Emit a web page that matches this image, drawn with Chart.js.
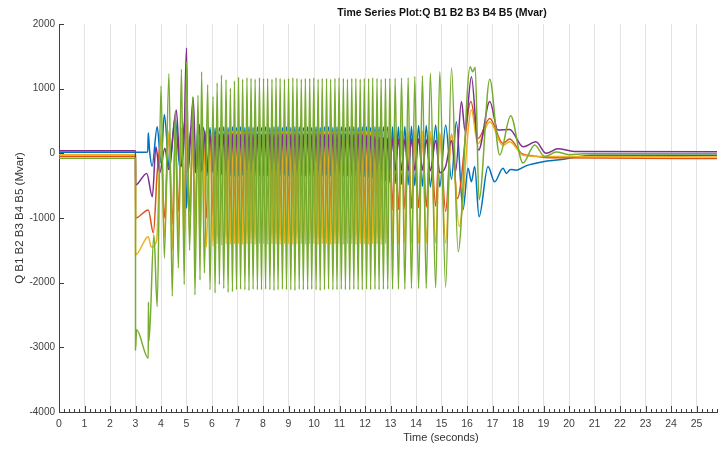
<!DOCTYPE html>
<html>
<head>
<meta charset="utf-8">
<script src="https://cdn.jsdelivr.net/npm/chart.js@4.4.1/dist/chart.umd.min.js"></script>
<style>
  html, body { margin: 0; padding: 0; background: #fff; }
  #wrap { width: 727px; height: 450px; }
</style>
</head>
<body>
<div id="wrap"><canvas id="qChart" width="727" height="450"></canvas></div>
<script>
// Q B1..B5 (Mvar)
// steady oscillation: shared extrema times (green peak, green trough, ...)
const oscT = [
  6.04, 6.12, 6.20, 6.29, 6.37, 6.46, 6.55, 6.63, 6.72, 6.80, 6.88, 6.96,
  7.04, 7.12, 7.20, 7.29, 7.37, 7.45, 7.53, 7.61, 7.69, 7.78, 7.86, 7.94,
  8.02, 8.10, 8.18, 8.27, 8.35, 8.43, 8.51, 8.59, 8.67, 8.76, 8.84, 8.92,
  9.00, 9.09, 9.17, 9.25, 9.33, 9.42, 9.50, 9.58, 9.66, 9.75, 9.83, 9.91,
  9.99, 10.08, 10.16, 10.24, 10.32, 10.41, 10.49, 10.57, 10.65, 10.74, 10.82, 10.90,
  10.98, 11.07, 11.15, 11.23, 11.31, 11.40, 11.48, 11.56, 11.64, 11.73, 11.81, 11.89,
  11.97, 12.06, 12.14, 12.22, 12.30, 12.39, 12.47, 12.55, 12.63, 12.72, 12.80, 12.89,
  12.97, 13.08, 13.18, 13.31, 13.43, 13.56, 13.69, 13.82, 13.95, 14.10, 14.25, 14.40,
  14.56, 14.77, 14.93, 15.16, 15.39
];

// blue (B1)
const blueStartT = [0, 3.0, 3.48, 3.50, 3.55, 3.65, 3.85, 4.00, 4.13, 4.33, 4.55, 4.75, 4.94, 5.00, 5.10, 5.22, 5.35, 5.45, 5.55, 5.67, 5.80, 5.92];
const blueStartQ = [15, 15, 20, 320, 50, -200, 410, -150, 600, -250, 545, -250, 520, -850, 100, 430, -300, 440, -300, 400, -350, 400];
const blueOscQ = [
  -300, 390, -350, 400, -330, 410, -350, 400, -340, 410, -350, 400,
  -350, 410, -340, 400, -350, 410, -350, 400, -340, 410, -350, 400,
  -350, 410, -350, 400, -340, 410, -350, 410, -350, 400, -340, 410,
  -350, 400, -350, 410, -340, 410, -350, 400, -350, 410, -340, 400,
  -350, 410, -350, 400, -350, 410, -340, 410, -350, 400, -350, 410,
  -350, 410, -350, 400, -350, 410, -350, 410, -350, 400, -350, 410,
  -360, 410, -370, 400, -380, 410, -400, 410, -420, 410, -430, 410,
  -450, 410, -470, 410, -480, 415, -490, 420, -500, 430, -510, 430,
  -520, 440, -520, 440, -400
];
const blueEndT = [15.58, 15.84, 16.04, 16.17, 16.30, 16.47, 16.82, 17.08, 17.41, 17.54, 17.70, 17.93, 18.33, 18.98, 19.63, 20.40, 20.90, 25.80];
const blueEndQ = [490, -875, -230, -440, -205, -980, -205, -440, -230, -310, -250, -260, -190, -130, -100, -50, -30, -30];

// orange (B2)
const orangeStartT = [0, 3.0, 3.001, 3.50, 3.70, 3.85, 4.00, 4.13, 4.31, 4.44, 4.56, 4.68, 4.80, 4.91, 5.00, 5.12, 5.25, 5.33, 5.45, 5.53, 5.65, 5.78, 5.92];
const orangeStartQ = [-45, -45, -1000, -875, -1230, -300, 200, -1000, 300, -1100, 250, -900, 350, -1000, 400, -900, 300, -1050, 250, -950, 300, -1000, 250];
const orangeOscQ = [
  -980, 200, -950, 250, -960, 260, -940, 250, -950, 250, -950, 260,
  -950, 250, -940, 260, -950, 250, -960, 250, -950, 260, -950, 250,
  -950, 250, -940, 260, -950, 250, -960, 250, -950, 260, -950, 250,
  -950, 250, -940, 260, -950, 250, -960, 250, -950, 260, -950, 250,
  -950, 250, -940, 260, -950, 250, -960, 250, -950, 260, -950, 250,
  -950, 250, -940, 260, -950, 250, -960, 250, -950, 260, -950, 250,
  -940, 250, -930, 260, -920, 250, -910, 250, -900, 260, -890, 250,
  250, -880, 260, -870, 250, -860, 260, -850, 250, -840, 260, -830,
  280, -820, 290, -900, 300
];
const orangeEndT = [15.62, 16.15, 16.43, 16.89, 17.40, 17.67, 18.13, 18.60, 19.30, 25.80];
const orangeEndQ = [-700, 800, 230, 540, 155, 220, 0, -40, -70, -80];

// yellow (B3)
const yellowStartT = [0, 3.0, 3.001, 3.50, 3.62, 3.83, 4.00, 4.13, 4.31, 4.44, 4.56, 4.68, 4.80, 4.91, 5.00, 5.12, 5.25, 5.33, 5.45, 5.53, 5.65, 5.78, 5.92];
const yellowStartQ = [-20, -20, -1570, -1290, -1450, -1340, 300, -1300, 350, -1500, 300, -1300, 400, -1450, 450, -1250, 350, -1500, 300, -1400, 350, -1450, 300];
const yellowOscQ = [
  -1430, 300, -1400, 350, -1420, 350, -1400, 340, -1410, 350, -1400, 350,
  -1400, 350, -1410, 340, -1400, 350, -1400, 350, -1410, 340, -1400, 350,
  -1400, 350, -1410, 340, -1400, 350, -1400, 350, -1410, 340, -1400, 350,
  -1400, 350, -1410, 340, -1400, 350, -1400, 350, -1410, 340, -1400, 350,
  -1400, 350, -1410, 340, -1400, 350, -1400, 350, -1410, 340, -1400, 350,
  -1400, 350, -1410, 340, -1400, 350, -1400, 350, -1410, 340, -1400, 350,
  -1400, 350, -1410, 340, -1400, 350, -1400, 350, -1410, 340, -1400, 350,
  350, -1400, 340, -1400, 350, -1390, 340, -1390, 350, -1390, 350, -1390,
  340, -1390, 330, -1390, 300
];
const yellowEndT = [15.69, 16.17, 16.42, 16.89, 17.40, 17.67, 18.20, 19.00, 25.80];
const yellowEndQ = [-1130, 670, 150, 490, 120, 180, -30, -50, -55];

// purple (B4)
const purpleStartT = [0, 3.0, 3.001, 3.44, 3.66, 3.80, 3.95, 4.15, 4.30, 4.60, 4.75, 4.90, 5.00, 5.06, 5.26, 5.38, 5.50, 5.60, 5.72, 5.82, 5.92];
const purpleStartQ = [40, 40, -490, -310, -670, 100, -300, 80, -250, 670, -200, 200, 1630, -300, 860, -300, 450, -280, 350, -280, 300];
const purpleOscQ = [
  -280, 300, -260, 290, -270, 300, -260, 290, -270, 300, -260, 290,
  -260, 290, -270, 300, -260, 290, -270, 290, -260, 300, -270, 290,
  -260, 290, -270, 300, -260, 290, -270, 290, -260, 300, -270, 290,
  -260, 290, -270, 300, -260, 290, -270, 290, -260, 300, -270, 290,
  -260, 290, -270, 300, -260, 290, -270, 290, -260, 300, -270, 290,
  -260, 290, -270, 300, -260, 290, -270, 290, -260, 300, -270, 290,
  -260, 280, -270, 270, -260, 260, -270, 250, -260, 240, -270, 230,
  -260, 230, -270, 220, -260, 220, -270, 220, -260, 220, -260, 210,
  -270, 200, -300, -205, 200
];
const purpleEndT = [15.55, 15.78, 15.92, 16.17, 16.45, 16.89, 17.21, 17.67, 18.20, 18.70, 19.10, 19.56, 20.20, 25.80];
const purpleEndQ = [-280, 800, 350, 1185, 50, 800, 360, 370, 100, 180, 0, 70, 30, 25];

// green (B5)
const greenStartT = [0, 3.0, 3.001, 3.04, 3.50, 3.505, 3.53, 3.72, 3.85, 4.00, 4.13, 4.31, 4.44, 4.56, 4.68, 4.80, 4.91, 5.00, 5.12, 5.25, 5.33, 5.45, 5.53, 5.59, 5.70, 5.83, 5.92];
const greenStartQ = [-75, -75, -3040, -2730, -3170, -2300, -2900, -1260, -2370, 1040, -1620, 1230, -2210, 650, -1775, 1300, -2030, 1420, -1500, 880, -2190, 900, -1960, 1260, -1850, 1060, -2110];
const greenOscQ = [
  880, -2160, 1090, -2030, 1210, -2090, 1140, -2150, 1010, -2140, 1120, -2110,
  1180, -2100, 1150, -2110, 1170, -2120, 1160, -2100, 1150, -2110, 1170, -2110,
  1160, -2100, 1160, -2110, 1150, -2120, 1170, -2110, 1160, -2100, 1150, -2110,
  1160, -2110, 1170, -2120, 1160, -2100, 1150, -2110, 1160, -2110, 1160, -2100,
  1170, -2110, 1150, -2120, 1160, -2110, 1160, -2100, 1150, -2110, 1160, -2110,
  1170, -2100, 1160, -2110, 1150, -2110, 1160, -2100, 1160, -2110, 1150, -2110,
  1160, -2100, 1160, -2110, 1170, -2100, 1160, -2110, 1150, -2100, 1160, -2100,
  1160, -2100, 1160, -2100, 1165, -2100, 1170, -2090, 1190, -2090, 1200, -2090,
  1240, -2080, 1260, -2070, 1320
];
const greenEndT = [15.65, 16.12, 16.22, 16.32, 16.47, 16.89, 17.28, 17.71, 18.19, 18.65, 19.04, 19.50, 20.00, 20.60, 25.80];
const greenEndQ = [-1520, 1340, 1260, 1330, -720, 1145, -25, 580, -150, 130, -50, 20, -20, -5, -5];

const xTicks = [0, 1, 2, 3, 4, 5, 6, 7, 8, 9, 10, 11, 12, 13, 14, 15, 16, 17, 18, 19, 20, 21, 22, 23, 24, 25];
const yTicks = [2000, 1000, 0, -1000, -2000, -3000, -4000];
const tMax = 25.8;

const toPoints = (ts, qs) => ts.map((t, i) => ({ x: t, y: qs[i] }));
const series = (startT, startQ, oscQ, endT, endQ) =>
  toPoints(startT, startQ).concat(toPoints(oscT, oscQ), toPoints(endT, endQ));

const FONT = "'Liberation Sans', Arial, sans-serif";

// titles + the small inward ticks
const decorPlugin = {
  id: 'decor',
  afterDraw(chart) {
    const ctx = chart.ctx;
    const xs = chart.scales.x, ys = chart.scales.y;
    const bottom = chart.chartArea.bottom, left = chart.chartArea.left;
    ctx.save();
    ctx.strokeStyle = '#404040';
    ctx.lineWidth = 1;
    ctx.beginPath();
    for (let k = 0; k <= Math.floor(tMax * 5); k++) {
      const px = Math.round(xs.getPixelForValue(k / 5)) + 0.5;
      const len = k % 5 === 0 ? 6 : 3;
      ctx.moveTo(px, bottom);
      ctx.lineTo(px, bottom - len);
    }
    yTicks.forEach(v => {
      const py = Math.round(ys.getPixelForValue(v)) + 0.5;
      ctx.moveTo(left, py);
      ctx.lineTo(left + 5, py);
    });
    ctx.stroke();

    ctx.fillStyle = '#111';
    ctx.font = 'bold 10.5px ' + FONT;
    ctx.textAlign = 'center';
    ctx.textBaseline = 'middle';
    ctx.fillText('Time Series Plot:Q B1 B2 B3 B4 B5 (Mvar)', 442, 13);

    ctx.fillStyle = '#333';
    ctx.font = '11px ' + FONT;
    ctx.fillText('Time (seconds)', 441, 438);

    ctx.font = '11.5px ' + FONT;
    ctx.translate(20, 218);
    ctx.rotate(-Math.PI / 2);
    ctx.fillText('Q B1 B2 B3 B4 B5 (Mvar)', 0, 0);
    ctx.restore();
  }
};

const line = (label, color, data, order) => ({
  label: label,
  data: data,
  borderColor: color,
  backgroundColor: color,
  borderWidth: 1.5,
  pointRadius: 0,
  fill: false,
  cubicInterpolationMode: 'monotone',
  order: order
});

const ctxQ = document.getElementById('qChart').getContext('2d');
const qChart = new Chart(ctxQ, {
  type: 'line',
  data: {
    datasets: [
      line('Q B1', '#0072BD', series(blueStartT, blueStartQ, blueOscQ, blueEndT, blueEndQ), 5),
      line('Q B2', '#D95319', series(orangeStartT, orangeStartQ, orangeOscQ, orangeEndT, orangeEndQ), 4),
      line('Q B3', '#EDB120', series(yellowStartT, yellowStartQ, yellowOscQ, yellowEndT, yellowEndQ), 3),
      line('Q B4', '#7E2F8E', series(purpleStartT, purpleStartQ, purpleOscQ, purpleEndT, purpleEndQ), 2),
      line('Q B5', '#77AC30', series(greenStartT, greenStartQ, greenOscQ, greenEndT, greenEndQ), 1)
    ]
  },
  options: {
    responsive: false,
    animation: false,
    layout: { padding: { top: 24, right: 10, left: 0, bottom: 0 } },
    plugins: {
      legend: { display: false },
      tooltip: { enabled: false },
      title: { display: false }
    },
    scales: {
      x: {
        type: 'linear',
        min: 0,
        max: tMax,
        afterFit: scale => { scale.height = 38; },
        afterBuildTicks: scale => {
          scale.ticks = xTicks.map(v => ({ value: v }));
        },
        ticks: {
          autoSkip: false,
          maxRotation: 0,
          padding: 6,
          color: '#404040',
          font: { family: FONT, size: 10.5 },
          callback: v => String(v)
        },
        grid: { color: '#e3e3e3', lineWidth: 1, drawTicks: false },
        border: { color: '#404040', width: 1 }
      },
      y: {
        min: -4000,
        max: 2000,
        afterFit: scale => { scale.width = 59; },
        afterBuildTicks: scale => {
          scale.ticks = yTicks.map(v => ({ value: v }));
        },
        ticks: {
          padding: 4,
          color: '#404040',
          font: { family: FONT, size: 10 },
          callback: v => String(v)
        },
        grid: { display: false, drawTicks: false },
        border: { color: '#404040', width: 1 }
      }
    }
  },
  plugins: [decorPlugin]
});
</script>
</body>
</html>
